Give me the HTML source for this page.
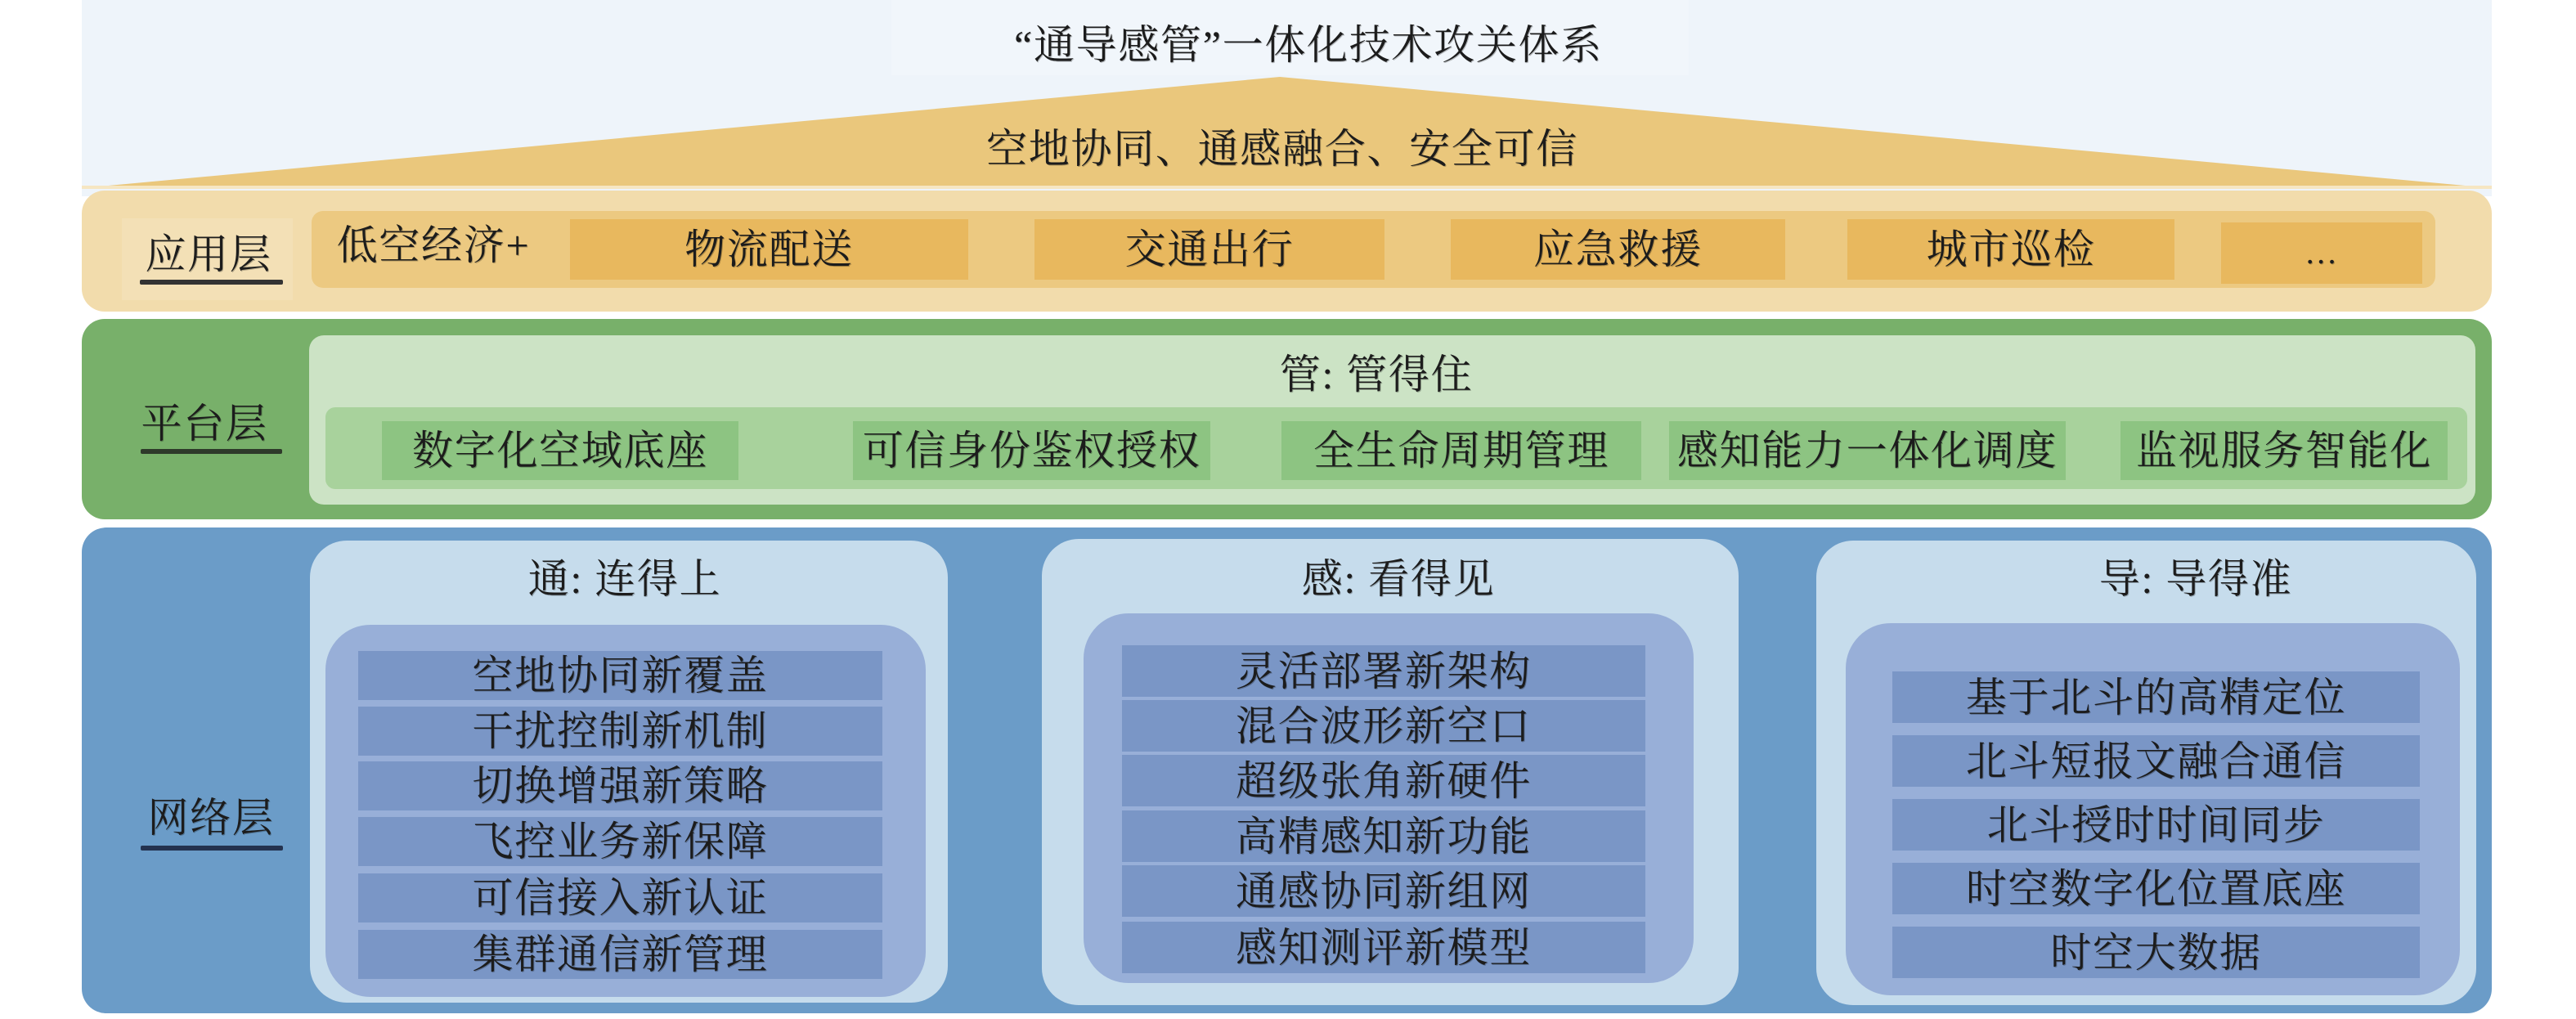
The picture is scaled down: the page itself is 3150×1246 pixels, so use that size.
<!DOCTYPE html>
<html><head><meta charset="utf-8">
<style>
*{margin:0;padding:0;box-sizing:border-box}
html,body{width:3150px;height:1246px;background:#fff;overflow:hidden}
body{position:relative;font-family:"Liberation Serif","Noto Serif CJK SC",serif;color:#1c1c1c}
.a{position:absolute}
.t{position:absolute;display:flex;align-items:center;justify-content:center;font-size:50px;letter-spacing:1.7px;white-space:nowrap;line-height:1;text-shadow:1px 1px 0 rgba(0,0,0,0.25)}
.ul{position:absolute;height:6px;background:#333;border-radius:2px}
</style></head><body>
<!-- top background -->
<div class="a" style="left:100px;top:0;width:2947px;height:240px;background:#eef4fa"></div>
<div class="a" style="left:1090px;top:0;width:975px;height:92px;background:#f1f6fb"></div>
<svg class="a" style="left:0;top:0" width="3150" height="250">
<polygon points="100,230 1565,94 3047,230" fill="#eac77c"/>
<line x1="100" y1="229" x2="3047" y2="229" stroke="#f6e6c2" stroke-width="4"/>
</svg>
<div class="t" style="left:1000px;top:30px;width:1200px;height:50px">“通导感管”一体化技术攻关体系</div>
<div class="t" style="left:1000px;top:157px;width:1136px;height:50px">空地协同、通感融合、安全可信</div>

<!-- application layer -->
<div class="a" style="left:100px;top:233px;width:2947px;height:148px;background:#f2dcac;border-radius:28px"></div>
<div class="a" style="left:149px;top:267px;width:209px;height:100px;background:#f3e0b6"></div>
<div class="a" style="left:381px;top:258px;width:2597px;height:94px;background:#ecc981;border-radius:14px"></div>
<div class="a" style="left:697px;top:268px;width:487px;height:74px;background:#e8b85e"></div>
<div class="a" style="left:1265px;top:268px;width:428px;height:74px;background:#e8b85e"></div>
<div class="a" style="left:1774px;top:268px;width:409px;height:74px;background:#e8b85e"></div>
<div class="a" style="left:2259px;top:268px;width:400px;height:74px;background:#e8b85e"></div>
<div class="a" style="left:2716px;top:272px;width:246px;height:75px;background:#e8b85e"></div>
<div class="t" style="left:150px;top:286px;width:210px;height:50px">应用层</div>
<div class="ul" style="left:171px;top:342px;width:175px"></div>
<div class="t" style="left:400px;top:275px;width:260px;height:50px">低空经济+</div>
<div class="t" style="left:697px;top:280px;width:487px;height:50px">物流配送</div>
<div class="t" style="left:1265px;top:280px;width:428px;height:50px">交通出行</div>
<div class="t" style="left:1774px;top:280px;width:409px;height:50px">应急救援</div>
<div class="t" style="left:2259px;top:280px;width:400px;height:50px">城市巡检</div>
<div class="t" style="left:2716px;top:284px;width:246px;height:50px;font-size:40px">…</div>

<!-- platform layer -->
<div class="a" style="left:100px;top:390px;width:2947px;height:245px;background:#78b06a;border-radius:28px"></div>
<div class="a" style="left:378px;top:410px;width:2649px;height:207px;background:#cce3c5;border-radius:18px"></div>
<div class="a" style="left:398px;top:498px;width:2619px;height:100px;background:#a8d29c;border-radius:12px"></div>
<div class="a" style="left:467px;top:515px;width:436px;height:72px;background:#8dc482"></div>
<div class="a" style="left:1043px;top:515px;width:437px;height:72px;background:#8dc482"></div>
<div class="a" style="left:1567px;top:515px;width:440px;height:72px;background:#8dc482"></div>
<div class="a" style="left:2041px;top:515px;width:485px;height:72px;background:#8dc482"></div>
<div class="a" style="left:2593px;top:515px;width:400px;height:72px;background:#8dc482"></div>
<div class="t" style="left:145px;top:493px;width:210px;height:50px">平台层</div>
<div class="ul" style="left:172px;top:549px;width:173px;background:#2e3a2a"></div>
<div class="t" style="left:1533px;top:433px;width:300px;height:50px">管: 管得住</div>
<div class="t" style="left:467px;top:526px;width:436px;height:50px">数字化空域底座</div>
<div class="t" style="left:1043px;top:526px;width:437px;height:50px">可信身份鉴权授权</div>
<div class="t" style="left:1567px;top:526px;width:440px;height:50px">全生命周期管理</div>
<div class="t" style="left:2041px;top:526px;width:485px;height:50px">感知能力一体化调度</div>
<div class="t" style="left:2593px;top:526px;width:400px;height:50px">监视服务智能化</div>

<!-- network layer -->
<div class="a" style="left:100px;top:645px;width:2947px;height:594px;background:#6b9cc8;border-radius:30px"></div>
<div class="t" style="left:153px;top:975px;width:210px;height:50px">网络层</div>
<div class="ul" style="left:172px;top:1034px;width:174px;background:#24324f"></div>

<!-- 通 -->
<div class="a" style="left:379px;top:661px;width:780px;height:565px;background:#c6dcec;border-radius:45px"></div>
<div class="a" style="left:398px;top:764px;width:734px;height:455px;background:#98afd8;border-radius:55px"></div>
<div class="t" style="left:614px;top:683px;width:300px;height:50px">通: 连得上</div>
<div class="a" style="left:438px;top:796px;width:641px;height:60px;background:#7a96c6"></div>
<div class="a" style="left:438px;top:864px;width:641px;height:60px;background:#7a96c6"></div>
<div class="a" style="left:438px;top:931px;width:641px;height:60px;background:#7a96c6"></div>
<div class="a" style="left:438px;top:999px;width:641px;height:60px;background:#7a96c6"></div>
<div class="a" style="left:438px;top:1068px;width:641px;height:60px;background:#7a96c6"></div>
<div class="a" style="left:438px;top:1137px;width:641px;height:60px;background:#7a96c6"></div>
<div class="t" style="left:438px;top:801px;width:641px;height:50px">空地协同新覆盖</div>
<div class="t" style="left:438px;top:869px;width:641px;height:50px">干扰控制新机制</div>
<div class="t" style="left:438px;top:936px;width:641px;height:50px">切换增强新策略</div>
<div class="t" style="left:438px;top:1004px;width:641px;height:50px">飞控业务新保障</div>
<div class="t" style="left:438px;top:1073px;width:641px;height:50px">可信接入新认证</div>
<div class="t" style="left:438px;top:1142px;width:641px;height:50px">集群通信新管理</div>

<!-- 感 -->
<div class="a" style="left:1274px;top:659px;width:852px;height:570px;background:#c6dcec;border-radius:45px"></div>
<div class="a" style="left:1325px;top:750px;width:746px;height:452px;background:#98afd8;border-radius:55px"></div>
<div class="t" style="left:1560px;top:683px;width:300px;height:50px">感: 看得见</div>
<div class="a" style="left:1372px;top:789px;width:640px;height:63px;background:#7a96c6"></div>
<div class="a" style="left:1372px;top:856px;width:640px;height:63px;background:#7a96c6"></div>
<div class="a" style="left:1372px;top:923px;width:640px;height:63px;background:#7a96c6"></div>
<div class="a" style="left:1372px;top:991px;width:640px;height:63px;background:#7a96c6"></div>
<div class="a" style="left:1372px;top:1058px;width:640px;height:63px;background:#7a96c6"></div>
<div class="a" style="left:1372px;top:1127px;width:640px;height:63px;background:#7a96c6"></div>
<div class="t" style="left:1372px;top:796px;width:640px;height:50px">灵活部署新架构</div>
<div class="t" style="left:1372px;top:863px;width:640px;height:50px">混合波形新空口</div>
<div class="t" style="left:1372px;top:930px;width:640px;height:50px">超级张角新硬件</div>
<div class="t" style="left:1372px;top:998px;width:640px;height:50px">高精感知新功能</div>
<div class="t" style="left:1372px;top:1065px;width:640px;height:50px">通感协同新组网</div>
<div class="t" style="left:1372px;top:1134px;width:640px;height:50px">感知测评新模型</div>

<!-- 导 -->
<div class="a" style="left:2221px;top:661px;width:807px;height:568px;background:#c6dcec;border-radius:45px"></div>
<div class="a" style="left:2257px;top:762px;width:751px;height:455px;background:#98afd8;border-radius:55px"></div>
<div class="t" style="left:2535px;top:683px;width:300px;height:50px">导: 导得准</div>
<div class="a" style="left:2314px;top:821px;width:645px;height:63px;background:#7a96c6"></div>
<div class="a" style="left:2314px;top:899px;width:645px;height:63px;background:#7a96c6"></div>
<div class="a" style="left:2314px;top:977px;width:645px;height:63px;background:#7a96c6"></div>
<div class="a" style="left:2314px;top:1055px;width:645px;height:63px;background:#7a96c6"></div>
<div class="a" style="left:2314px;top:1133px;width:645px;height:63px;background:#7a96c6"></div>
<div class="t" style="left:2314px;top:828px;width:645px;height:50px">基于北斗的高精定位</div>
<div class="t" style="left:2314px;top:906px;width:645px;height:50px">北斗短报文融合通信</div>
<div class="t" style="left:2314px;top:984px;width:645px;height:50px">北斗授时时间同步</div>
<div class="t" style="left:2314px;top:1062px;width:645px;height:50px">时空数字化位置底座</div>
<div class="t" style="left:2314px;top:1140px;width:645px;height:50px">时空大数据</div>
</body></html>
